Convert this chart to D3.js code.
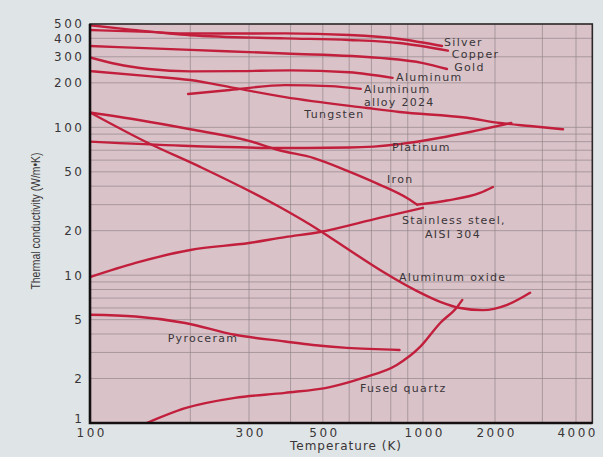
<!DOCTYPE html>
<html>
<head>
<meta charset="utf-8">
<script src="https://cdn.jsdelivr.net/npm/d3@7"></script>
<style>
  body { margin: 0; background: #dfe5e6; }
  svg { display: block; font-family: "DejaVu Sans", sans-serif; }
</style>
</head>
<body>
<svg id="chart" width="603" height="457"></svg>
<script>
// thermal conductivity k (W/m.K) against temperature T (K)
const silver = [[100, 455], [150, 442], [200, 431], [385, 432], [600, 421], [850, 396], [1200, 355]];
const copper = [[100, 490], [130, 460], [200, 420], [385, 400], [600, 390], [850, 372], [1270, 330]];
const gold = [[100, 355], [200, 334], [385, 316], [740, 295], [1000, 272], [1260, 248]];
const aluminum = [[100, 297], [120, 268], [150, 248], [200, 239], [280, 240], [400, 243], [600, 236], [810, 216]];
const alloy2024 = [[197, 168], [263, 179], [385, 193], [525, 190], [650, 182]];
const tungsten = [[100, 240], [150, 222], [200, 209], [270, 185], [385, 160], [680, 135], [850, 127],
  [1530, 116], [2090, 107], [2700, 102], [3580, 97]];
const platinum = [[100, 80], [190, 75], [385, 72.5], [600, 73], [850, 77], [1180, 85], [1570, 93], [2300, 107]];
const iron = [[100, 126], [140, 112], [200, 97], [300, 81], [370, 70], [470, 62], [590, 51], [740, 41],
  [900, 33], [960, 30]];
const ironHigh = [[960, 30], [1260, 32], [1730, 36], [1960, 39.5]];
const stainless = [[100, 9.7], [137, 12.1], [200, 14.8], [300, 16.5], [385, 18.1], [490, 19.6], [740, 24.4], [1000, 28.5]];
const aluminumOxide = [[100, 126], [150, 78], [214, 54], [370, 29], [490, 20], [600, 14.8], [760, 10.5],
  [960, 7.8], [1180, 6.6], [1430, 6.0], [1780, 5.8], [2220, 6.3], [2700, 7.6]];
const pyroceram = [[100, 5.4], [137, 5.25], [193, 4.75], [272, 3.95], [385, 3.56], [467, 3.37], [590, 3.22], [850, 3.12]];
const fusedQuartz = [[148, 1.0], [193, 1.26], [272, 1.48], [385, 1.6], [525, 1.75], [660, 2.02], [834, 2.47],
  [980, 3.27], [1180, 4.75], [1390, 6.1], [1460, 6.8]];

// curve labels, anchored at [T, k]
const labels = [
  ["Silver", 1225, 357], ["Copper", 1320, 294], ["Gold", 1350, 242], ["Aluminum", 830, 205],
  ["Aluminum", 665, 170], ["alloy 2024", 665, 140], ["Tungsten", 440, 115], ["Platinum", 807, 69.5],
  ["Iron", 780, 41.8], ["Stainless steel,", 865, 22.3], ["AISI 304", 1020, 17.8],
  ["Aluminum oxide", 847, 9.18], ["Pyroceram", 171, 3.53], ["Fused quartz", 647, 1.62]
];

const xTicks = [100, 300, 500, 1000, 2000, 4000];
const yTicks = [1, 2, 5, 10, 20, 50, 100, 200, 300, 400, 500];
const xGrid = [200, 300, 400, 500, 600, 700, 800, 900, 1000, 2000, 3000, 4000];
const yGrid = [2, 3, 4, 5, 6, 7, 8, 9, 10, 20, 30, 40, 50, 60, 70, 80, 90, 100, 200, 300, 400];
const xMax = 4600;

const svg = d3.select("#chart");

// the photographed page is slightly squeezed to the right, hence the piecewise log scale
const x = d3.scaleLog()
  .domain([100, 300, 1000, 2000, 4000])
  .range([90, 249, 423, 495, 576]);
const y = d3.scaleLog()
  .domain([1, 500])
  .range([423, 24]);

const pLeft = x(100), pRight = x(xMax), pTop = y(500), pBottom = y(1);

svg.append("rect")
  .attr("x", pLeft).attr("y", pTop)
  .attr("width", pRight - pLeft).attr("height", pBottom - pTop)
  .attr("fill", "#d9c3c9");

svg.append("clipPath").attr("id", "plot")
  .append("rect")
  .attr("x", pLeft).attr("y", pTop)
  .attr("width", pRight - pLeft).attr("height", pBottom - pTop);

// grid
const grid = svg.append("g").attr("stroke", "#938589").attr("stroke-width", 0.7);
grid.selectAll(".vg").data(xGrid).enter().append("line")
  .attr("x1", d => x(d)).attr("x2", d => x(d))
  .attr("y1", pTop).attr("y2", pBottom);
grid.selectAll(".hg").data(yGrid).enter().append("line")
  .attr("y1", d => y(d)).attr("y2", d => y(d))
  .attr("x1", pLeft).attr("x2", pRight);

// curves
const line = d3.line()
  .x(d => x(d[0]))
  .y(d => y(d[1]))
  .curve(d3.curveMonotoneX);

const curves = [silver, copper, gold, aluminum, alloy2024, tungsten, platinum, iron, ironHigh,
  stainless, aluminumOxide, pyroceram, fusedQuartz];

svg.append("g")
  .attr("clip-path", "url(#plot)")
  .selectAll("path")
  .data(curves)
  .enter()
  .append("path")
  .attr("d", line)
  .attr("fill", "none")
  .attr("stroke", "#c21f3c")
  .attr("stroke-width", 2.4)
  .attr("stroke-linecap", "round");

// frame
svg.append("rect")
  .attr("x", pLeft).attr("y", pTop)
  .attr("width", pRight - pLeft).attr("height", pBottom - pTop)
  .attr("fill", "none")
  .attr("stroke", "#2b2628")
  .attr("stroke-width", 1.6);
svg.append("path")
  .attr("d", `M${pLeft},${pTop}V${pBottom}H${pRight}`)
  .attr("fill", "none")
  .attr("stroke", "#141012")
  .attr("stroke-width", 2.6);

// axes
const yAxis = svg.append("g")
  .attr("transform", `translate(${pLeft},0)`)
  .call(d3.axisLeft(y).tickValues(yTicks).tickFormat(d3.format("d")).tickSize(0).tickPadding(8));
const xAxis = svg.append("g")
  .attr("transform", `translate(0,${pBottom})`)
  .call(d3.axisBottom(x).tickValues(xTicks).tickFormat(d3.format("d")).tickSize(0).tickPadding(5));

yAxis.select(".domain").remove();
xAxis.select(".domain").remove();

svg.selectAll(".tick text")
  .style("font-family", "DejaVu Sans")
  .style("font-size", "12px")
  .style("letter-spacing", "2.5px")
  .attr("fill", "#3a3538");
xAxis.selectAll(".tick text").attr("dx", "1.2px");
yAxis.selectAll(".tick text").attr("dx", "2.5px");
yAxis.selectAll(".tick").filter(d => d === 1).select("text").attr("y", -4);

svg.append("text")
  .attr("x", 346).attr("y", 450)
  .attr("text-anchor", "middle")
  .attr("fill", "#3a3538")
  .style("font-size", "12px")
  .style("letter-spacing", "1px")
  .text("Temperature (K)");

svg.append("text")
  .attr("transform", "translate(40,221) rotate(-90)")
  .attr("text-anchor", "middle")
  .attr("fill", "#3a3538")
  .attr("textLength", 137)
  .attr("lengthAdjust", "spacingAndGlyphs")
  .style("font-family", "'Liberation Sans Narrow', 'Liberation Sans', sans-serif")
  .style("font-size", "13px")
  .text("Thermal conductivity (W/m\u2022K)");

// curve labels
svg.append("g")
  .selectAll("text")
  .data(labels)
  .enter()
  .append("text")
  .attr("x", d => x(d[1]))
  .attr("y", d => y(d[2]))
  .attr("fill", "#3a3538")
  .style("font-size", "11px")
  .style("letter-spacing", "1.3px")
  .text(d => d[0]);
</script>
</body>
</html>
